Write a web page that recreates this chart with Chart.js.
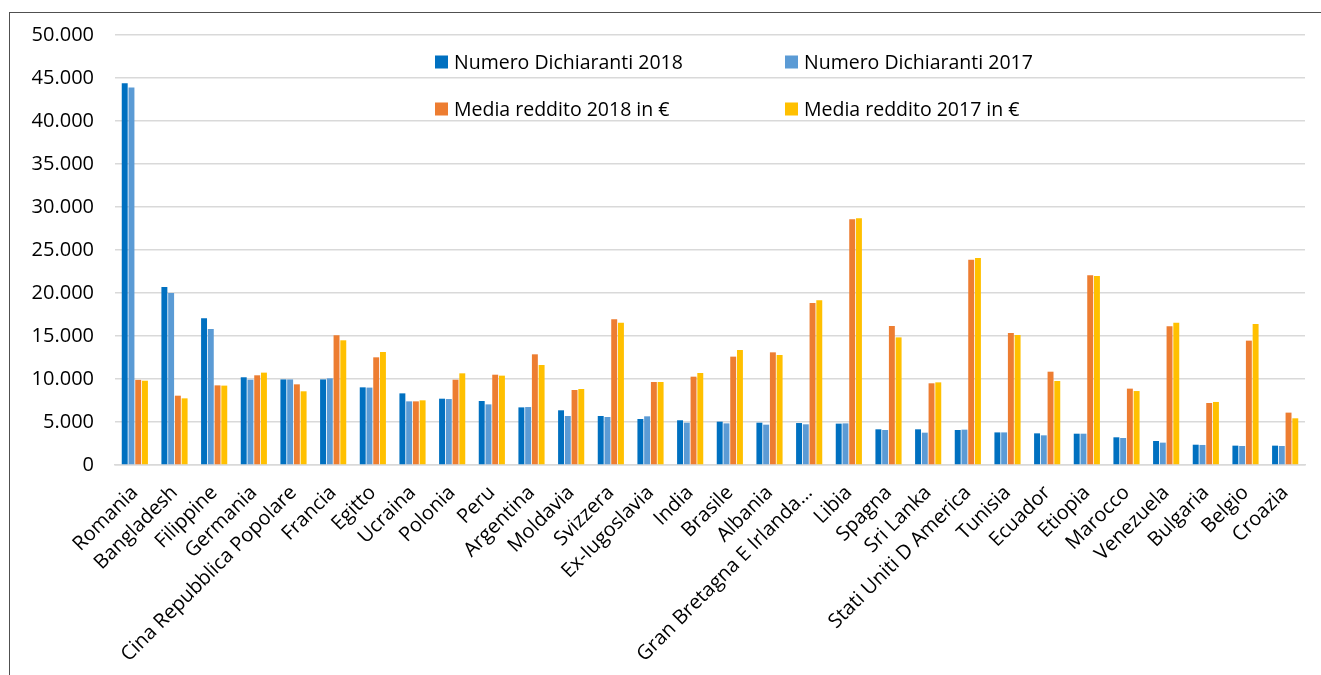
<!DOCTYPE html>
<html>
<head>
<meta charset="utf-8">
<script src="https://cdn.jsdelivr.net/npm/chart.js@4.4.1/dist/chart.umd.min.js"></script>
<style>
    html, body { margin: 0; padding: 0; background: #fff; overflow: hidden; }
    .frame { position: absolute; left: 9px; top: 12px; width: 1400px; height: 700px; border-left: 1px solid #505050; border-top: 1px solid #505050; }
    .wrap { position: absolute; left: 0; top: 0; width: 1321px; height: 675px; }
</style>
</head>
<body>
<div class="frame"></div>
<div class="wrap"><canvas id="chartDichiaranti"></canvas></div>
<script>
var categories = ['Romania', 'Bangladesh', 'Filippine', 'Germania', 'Cina Repubblica Popolare', 'Francia', 'Egitto', 'Ucraina',
    'Polonia', 'Peru', 'Argentina', 'Moldavia', 'Svizzera', 'Ex-Iugoslavia', 'India', 'Brasile', 'Albania',
    'Gran Bretagna E Irlanda…', 'Libia', 'Spagna', 'Sri Lanka', 'Stati Uniti D America', 'Tunisia', 'Ecuador',
    'Etiopia', 'Marocco', 'Venezuela', 'Bulgaria', 'Belgio', 'Croazia'];

var numero2018 = [44400, 20700, 17050, 10200, 9950, 9950, 9030, 8330, 7710, 7440, 6700, 6360, 5700, 5350, 5200,
    5040, 4920, 4880, 4810, 4150, 4150, 4070, 3790, 3680, 3640, 3220, 2790, 2360, 2250, 2250];
var numero2017 = [43900, 20000, 15800, 9920, 9950, 10080, 9000, 7400, 7670, 7050, 6740, 5700, 5580, 5660, 4920,
    4840, 4690, 4730, 4840, 4070, 3760, 4110, 3790, 3450, 3640, 3140, 2600, 2330, 2210, 2210];
var media2018 = [9900, 8060, 9260, 10430, 9380, 15080, 12520, 7400, 9920, 10500, 12870, 8720, 16940, 9650, 10270,
    12600, 13100, 18840, 28570, 16160, 9500, 23880, 15350, 10850, 22050, 8880, 16120, 7210, 14460, 6090];
var media2017 = [9800, 7750, 9230, 10740, 8570, 14500, 13140, 7520, 10660, 10390, 11630, 8840, 16550, 9650, 10700,
    13370, 12790, 19150, 28680, 14840, 9610, 24070, 15120, 9770, 21980, 8600, 16550, 7330, 16400, 5430];

var seriesLabels = ['Numero Dichiaranti 2018', 'Numero Dichiaranti 2017', 'Media reddito 2018 in €', 'Media reddito 2017 in €'];
var seriesColors = ['#0070C0', '#5B9BD5', '#ED7D31', '#FFC000'];

var yMax = 50000;
var yStep = 5000;

var fontFamily = "'Open Sans', 'Noto Sans', sans-serif";

function formatThousands(value) {
    return value.toString().replace(/\B(?=(\d{3})+(?!\d))/g, ".");
}

// legend drawn inside the plot area, 2 x 2 like the Excel original
var insideLegend = {
    id: 'insideLegend',
    afterDraw: function (chart) {
        var ctx = chart.ctx;
        var cols = [435, 785];
        var rows = [62, 109];
        ctx.save();
        ctx.font = "19.5px " + fontFamily;
        ctx.textBaseline = 'middle';
        ctx.textAlign = 'left';
        chart.data.datasets.forEach(function (ds, i) {
            var x = cols[i % 2];
            var y = rows[Math.floor(i / 2)];
            ctx.fillStyle = ds.backgroundColor;
            ctx.fillRect(x, y - 6.5, 13, 13);
            ctx.fillStyle = '#000';
            ctx.fillText(ds.label, x + 19, y + 1);
        });
        ctx.restore();
    }
};

var datasets = [];
var values = [numero2018, numero2017, media2018, media2017];
for (var i = 0; i < values.length; i++) {
    datasets.push({
        label: seriesLabels[i],
        data: values[i],
        backgroundColor: seriesColors[i],
        borderWidth: 0,
        barPercentage: 0.88,
        categoryPercentage: 0.68
    });
}

new Chart(document.getElementById('chartDichiaranti').getContext('2d'), {
    type: 'bar',
    data: {
        labels: categories,
        datasets: datasets
    },
    options: {
        responsive: true,
        maintainAspectRatio: false,
        animation: false,
        layout: {
            padding: { left: 10, right: 16, top: 35, bottom: 0 }
        },
        plugins: {
            legend: { display: false },
            tooltip: { enabled: false }
        },
        scales: {
            x: {
                grid: { display: false },
                border: { color: '#D9D9D9', width: 1.5 },
                afterFit: function (scale) { scale.height = 210; },
                ticks: {
                    autoSkip: false,
                    maxRotation: 45,
                    minRotation: 45,
                    padding: 8,
                    color: '#000',
                    font: { family: fontFamily, size: 20 }
                }
            },
            y: {
                min: 0,
                max: yMax,
                afterFit: function (scale) { scale.width = 105; },
                grid: { color: '#D9D9D9', lineWidth: 1.5, drawTicks: false },
                border: { display: false },
                ticks: {
                    stepSize: yStep,
                    padding: 21,
                    color: '#000',
                    font: { family: fontFamily, size: 20 },
                    callback: function (value) { return formatThousands(value); }
                }
            }
        }
    },
    plugins: [insideLegend]
});
</script>
</body>
</html>
